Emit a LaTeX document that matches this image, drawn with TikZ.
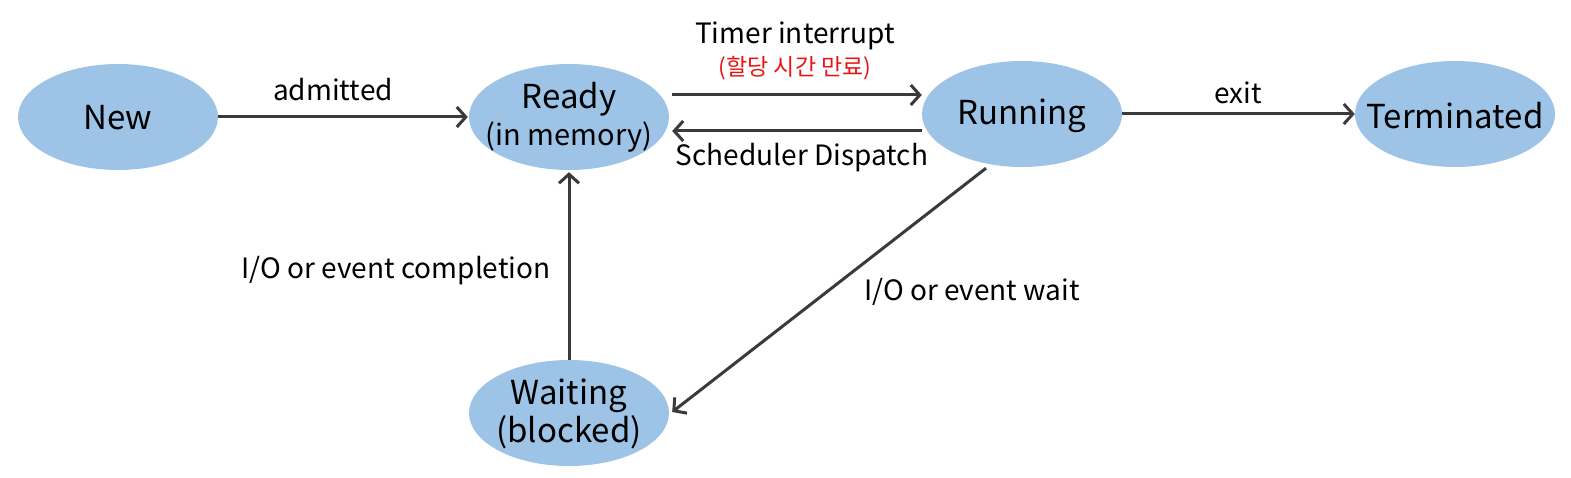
\documentclass[tikz,border=0pt]{standalone}
\usepackage{fontspec}
\setmainfont{Noto Sans CJK KR}
\usetikzlibrary{shapes.geometric,arrows.meta}
\definecolor{stfill}{RGB}{157,195,230}
\definecolor{arrowc}{RGB}{58,58,58}
\definecolor{korred}{RGB}{235,20,20}
\begin{document}
\begin{tikzpicture}[x=1pt,y=-1pt,
  state/.style={ellipse,fill=stfill,minimum width=200pt,minimum height=106pt,inner sep=0pt},
  stxt/.style={align=center,inner sep=0pt,font=\fontsize{33}{38}\selectfont},
  conn/.style={draw=arrowc,line width=3pt,-{Straight Barb[length=9pt,width=20pt,line width=3pt]}},
  lbl/.style={font=\fontsize{28}{32}\selectfont,inner sep=0pt}]
\useasboundingbox (0,0) rectangle (1571,478);
\node[state] (new) at (118,117) {};
\node[state] (ready) at (569,117) {};
\node[state] (running) at (1022,114) {};
\node[state] (term) at (1455,114) {};
\node[state] (wait) at (569,413) {};
\node[stxt] (newt) at (118,118) {New};
\node[stxt] (readyt) at (569,117) {Ready\\[-1pt]{\fontsize{29}{34}\selectfont (in memory)}};
\node[stxt] (runningt) at (1022,116) {Running};
\node[stxt] (termt) at (1455,116) {Terminated};
\node[stxt] (waitt) at (569,414) {Waiting\\[0pt](blocked)};

\draw[conn] (new.east) -- ([xshift=-1pt]ready.west);
\draw[conn] ([xshift=3pt,yshift=22pt]ready.east) -- ([yshift=19pt]running.west);
\draw[conn] ([yshift=-17pt]running.west) -- ([xshift=3pt,yshift=-14pt]ready.east);
\draw[conn] (running.east) -- (term.west);
\draw[conn] (wait.north) -- ([yshift=-2pt]ready.south);
\draw[conn] ([xshift=-36pt,yshift=-1pt]running.south) -- ([xshift=3pt,yshift=1pt]wait.east);

\node[lbl] (ladm) at (333,90) {admitted};
\node[lbl] (ltim) at (795,36) {Timer interrupt};
\node[lbl,text=korred,font=\fontsize{23}{27}\selectfont] (lkor) at (795,68) {(할당 시간 만료)};
\node[lbl] (lsch) at (802,158) {Scheduler Dispatch};
\node[lbl] (lexit) at (1238,93) {exit};
\node[lbl] (lcomp) at (396,271) {I/O or event completion};
\node[lbl] (lwait) at (972,292) {I/O or event wait};
\end{tikzpicture}
\end{document}
